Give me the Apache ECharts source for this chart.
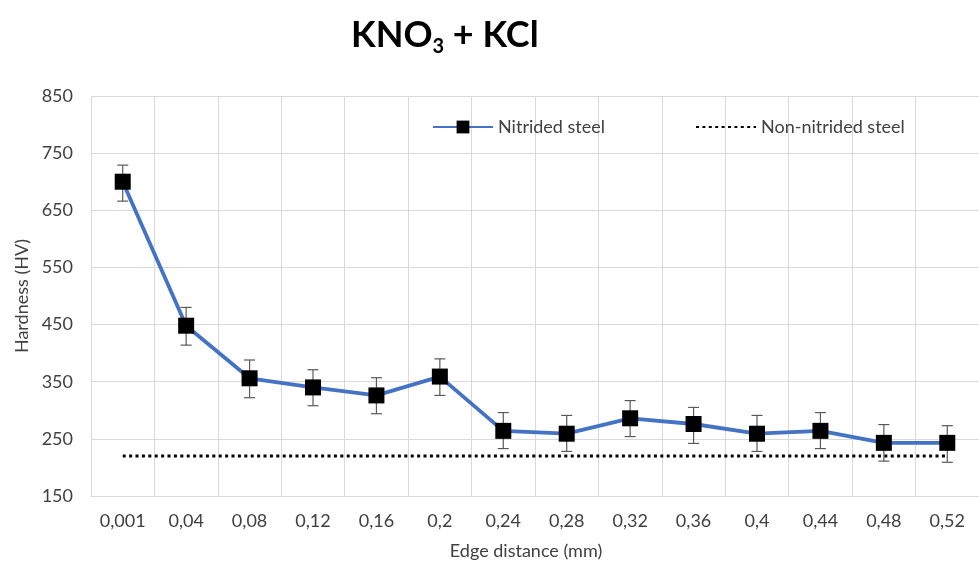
<!DOCTYPE html>
<html>
<head>
<meta charset="utf-8">
<script src="https://cdn.jsdelivr.net/npm/echarts@6/dist/echarts.min.js"></script>
<style>
html,body{margin:0;padding:0;background:#fff;}
#chart{width:979px;height:570px;}
</style>
</head>
<body>
<div id="chart"></div>
<script>
const categories = ['0,001','0,04','0,08','0,12','0,16','0,2','0,24','0,28','0,32','0,36','0,4','0,44','0,48','0,52'];
const hardness   = [700, 448, 356, 340, 326, 359, 264, 259, 286, 276, 259, 264, 243, 243];
const errLow     = [666, 414, 322, 308, 294, 326, 233, 228, 254, 242, 228, 233, 211, 209];
const errHigh    = [729, 480, 388, 371, 357, 390, 296, 291, 317, 305, 291, 296, 275, 273];
const nonNitrided = [220, 220, 220, 220, 220, 220, 220, 220, 220, 220, 220, 220, 220, 220];
const yTicks = { min: 150, max: 850, step: 100 };

const FONT = 'Lato';
const TXT = '#404040';
const GRID = '#d9d9d9';

const errData = categories.map((c, i) => [i, errLow[i], errHigh[i]]);

const chart = echarts.init(document.getElementById('chart'), null, { renderer: 'canvas' });
chart.setOption({
  animation: false,
  backgroundColor: '#ffffff',
  title: {
    text: '{a|KNO}{s|3}{a| + KCl}',
    left: 346,
    top: 8,
    textStyle: {
      rich: {
        a: { fontFamily: FONT, fontWeight: 'bold', fontSize: 36, lineHeight: 44, color: '#000' },
        s: { fontFamily: FONT, fontWeight: 'bold', fontSize: 20, lineHeight: 20, verticalAlign: 'bottom', color: '#000' }
      }
    }
  },
  legend: {
    left: 427,
    top: 113,
    itemWidth: 60,
    itemHeight: 16,
    itemGap: 90,
    textStyle: { fontFamily: FONT, fontSize: 18, color: TXT },
    data: [
      { name: 'Nitrided steel' },
      { name: 'Non-nitrided steel', itemStyle: { color: 'rgba(0,0,0,0)', borderWidth: 0 } }
    ]
  },
  grid: { left: 91, top: 96, width: 896, height: 400, containLabel: false },
  xAxis: {
    type: 'category',
    data: categories,
    boundaryGap: true,
    name: 'Edge distance (mm)',
    nameLocation: 'middle',
    nameGap: 46,
    nameTextStyle: { fontFamily: FONT, fontSize: 18, color: TXT, padding: [0, 18, 0, 0] },
    axisLine: { show: true, lineStyle: { color: GRID, width: 1 } },
    axisTick: { show: false },
    axisLabel: { fontFamily: FONT, fontSize: 18, color: TXT, margin: 16, interval: 0 },
    splitLine: { show: true, interval: 0, lineStyle: { color: GRID, width: 1 } }
  },
  yAxis: {
    type: 'value',
    min: yTicks.min,
    max: yTicks.max,
    interval: yTicks.step,
    name: 'Hardness (HV)',
    nameLocation: 'middle',
    nameGap: 58,
    nameTextStyle: { fontFamily: FONT, fontSize: 18, color: TXT },
    axisLine: { show: false },
    axisTick: { show: false },
    axisLabel: { fontFamily: FONT, fontSize: 18, color: TXT, margin: 18 },
    splitLine: { show: true, lineStyle: { color: GRID, width: 1 } }
  },
  series: [
    {
      name: 'Non-nitrided steel',
      type: 'line',
      data: nonNitrided,
      symbol: 'none',
      z: 2,
      itemStyle: { color: '#000' },
      lineStyle: { color: '#000', width: 3, type: [3, 3.4] }
    },
    {
      name: 'errors',
      type: 'custom',
      z: 3,
      data: errData,
      renderItem: function (params, api) {
        const x = api.value(0);
        const lo = api.coord([x, api.value(1)]);
        const hi = api.coord([x, api.value(2)]);
        const half = 5.5;
        const st = { stroke: '#595959', lineWidth: 1.2 };
        return {
          type: 'group',
          children: [
            { type: 'line', shape: { x1: hi[0], y1: hi[1], x2: lo[0], y2: lo[1] }, style: st },
            { type: 'line', shape: { x1: hi[0] - half, y1: hi[1], x2: hi[0] + half, y2: hi[1] }, style: st },
            { type: 'line', shape: { x1: lo[0] - half, y1: lo[1], x2: lo[0] + half, y2: lo[1] }, style: st }
          ]
        };
      }
    },
    {
      name: 'Nitrided steel',
      type: 'line',
      data: hardness,
      z: 4,
      symbol: 'rect',
      symbolSize: 16,
      itemStyle: { color: '#000', borderWidth: 0 },
      lineStyle: { color: '#4472C4', width: 3.8 }
    }
  ]
});
</script>
</body>
</html>
